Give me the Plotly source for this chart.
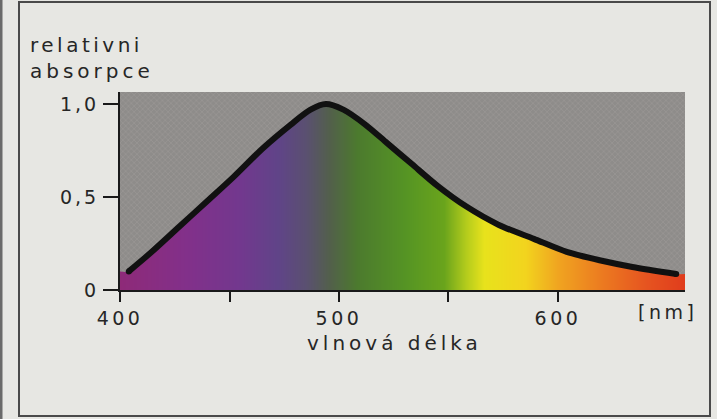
import plotly.graph_objects as go

# Relative absorption of the visual pigment across the visible spectrum
wavelength_nm = [404, 414, 427, 440, 452, 465, 478, 487, 494, 502, 512, 522,
                 533, 545, 558, 573, 589, 604, 619, 634, 654]
rel_absorption = [0.10, 0.20, 0.34, 0.48, 0.61, 0.76, 0.89, 0.97, 1.00, 0.97,
                  0.89, 0.79, 0.68, 0.56, 0.45, 0.35, 0.275, 0.205, 0.16,
                  0.124, 0.086]

# Colour of light at each wavelength (fill under the curve)
spectrum_nm = [400, 430, 455, 472, 485, 496, 508, 530, 548, 558, 566, 585,
               600, 620, 640, 658]
spectrum_colors = ["#8e2a78", "#82308a", "#72388e", "#604488", "#5a5070",
                   "#52604a", "#4c7a2e", "#559424", "#6aa41c", "#b4cc1c",
                   "#e8e21c", "#f2d41e", "#f0a420", "#ec7a20", "#e65420",
                   "#e03c1c"]

x_ticks = [400, 450, 500, 550, 600]
x_tick_labels = ["400", "", "500", "", "600"]
y_ticks = [0, 0.5, 1.0]
y_tick_labels = ["0", "0,5", "1,0"]

X_RANGE = [400, 658]
Y_RANGE = [0, 1.065]

W, H = 717, 419
M_L, M_R, M_T, M_B = 120, 32, 92, 129
FONT = "DejaVu Sans"
INK = "#262626"
GREY = "#8e8c8a"


def px_x(p):
    return (p - M_L) / (W - M_L - M_R)


def px_y(p):
    return (H - M_B - p) / (H - M_T - M_B)


def spaced(s, gap):
    return f'<span style="letter-spacing:{gap}px">{s}</span>' if s else ""


nm_lo, nm_hi = spectrum_nm[0], spectrum_nm[-1]
colorscale = [[(n - nm_lo) / (nm_hi - nm_lo), c]
              for n, c in zip(spectrum_nm, spectrum_colors)]

fig = go.Figure()

# Spectrum band across the whole plot area
fig.add_trace(go.Heatmap(
    x=spectrum_nm, y=Y_RANGE, z=[spectrum_nm, spectrum_nm],
    colorscale=colorscale, zmin=nm_lo, zmax=nm_hi, zsmooth="best",
    showscale=False, hoverinfo="skip"))

# Grey backdrop above the curve
fig.add_trace(go.Scatter(
    x=X_RANGE, y=[Y_RANGE[1] + 0.1] * 2, mode="lines",
    line=dict(width=0), hoverinfo="skip", showlegend=False))
fig.add_trace(go.Scatter(
    x=[X_RANGE[0]] + wavelength_nm + [X_RANGE[1]],
    y=[rel_absorption[0]] + rel_absorption + [rel_absorption[-1]],
    mode="lines", line=dict(width=0, shape="spline", smoothing=0.8),
    fill="tonexty", fillcolor=GREY,
    fillpattern=dict(shape="x", bgcolor=GREY, fgcolor="#a3a19f",
                     size=4, solidity=0.35),
    hoverinfo="skip", showlegend=False))

# Absorption curve
fig.add_trace(go.Scatter(
    x=wavelength_nm, y=rel_absorption, mode="lines",
    line=dict(color="#111111", width=6, shape="spline", smoothing=0.8),
    hoverinfo="skip", showlegend=False))
fig.add_trace(go.Scatter(
    x=[wavelength_nm[0], wavelength_nm[-1]],
    y=[rel_absorption[0], rel_absorption[-1]], mode="markers",
    marker=dict(color="#111111", size=6), hoverinfo="skip", showlegend=False))

axis_common = dict(
    showgrid=False, zeroline=False, showline=True, linecolor="#1a1a1a",
    linewidth=2, ticks="outside", tickwidth=2, tickcolor="#1a1a1a",
    tickfont=dict(family=FONT, size=19, color=INK))

fig.update_xaxes(range=X_RANGE, tickvals=x_ticks,
                 ticktext=[spaced(t, 3.5) for t in x_tick_labels],
                 ticklen=10, **axis_common)
fig.update_yaxes(range=Y_RANGE, tickvals=y_ticks,
                 ticktext=[spaced(t, 3) for t in y_tick_labels],
                 ticklen=15, **axis_common)

text_font = dict(family=FONT, size=20, color=INK)
annotations = [
    dict(text=spaced("relativni", 3.5), x=px_x(29), y=px_y(58),
         xanchor="left", yanchor="bottom"),
    dict(text=spaced("absorpce", 4), x=px_x(29), y=px_y(58),
         xanchor="left", yanchor="top"),
    dict(text=spaced("vlnová délka", 4), x=px_x(394), y=px_y(343),
         xanchor="center", yanchor="middle"),
    dict(text=spaced("[nm]", 3.5), x=px_x(667), y=px_y(312),
         xanchor="center", yanchor="middle",
         font=dict(family=FONT, size=19, color=INK)),
]
for a in annotations:
    a.setdefault("font", text_font)
    fig.add_annotation(xref="paper", yref="paper", showarrow=False,
                       borderpad=0, **a)

# Page frame
fig.add_shape(type="rect", xref="paper", yref="paper",
              x0=px_x(19), x1=px_x(710), y0=px_y(416), y1=px_y(2),
              line=dict(color="#4a4a4a", width=2), layer="below")
fig.add_shape(type="line", xref="paper", yref="paper",
              x0=px_x(1), x1=px_x(1), y0=px_y(419), y1=px_y(0),
              line=dict(color="#6a6a6a", width=3))

fig.update_layout(
    width=W, height=H, margin=dict(l=M_L, r=M_R, t=M_T, b=M_B),
    paper_bgcolor="#e7e7e3", plot_bgcolor=GREY, showlegend=False)

fig.write_html("out.html")
